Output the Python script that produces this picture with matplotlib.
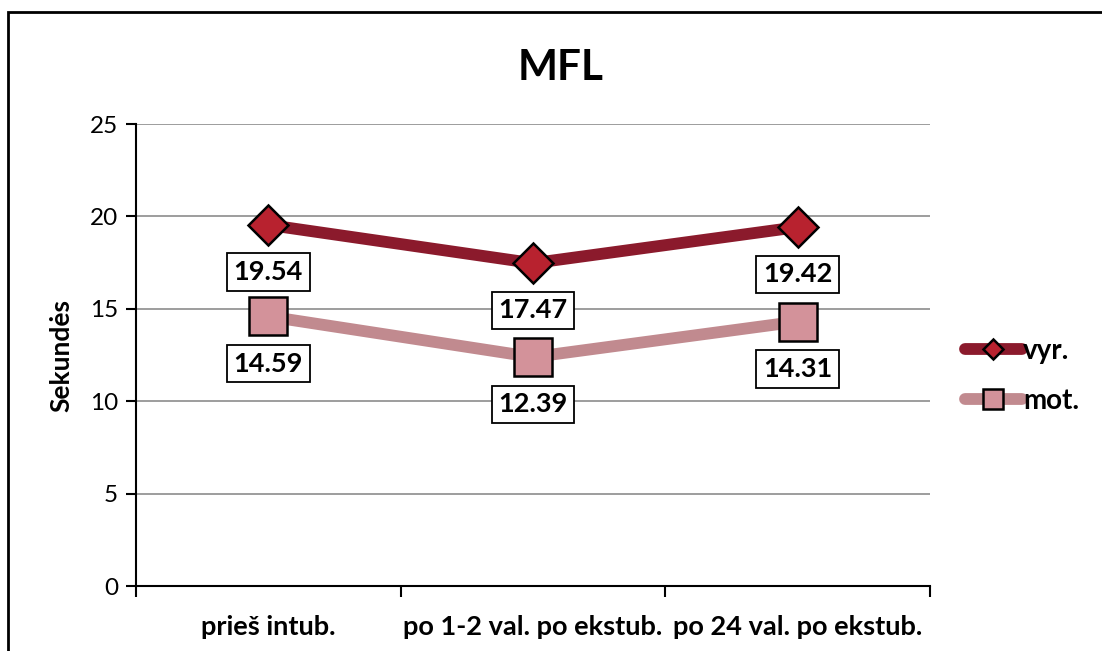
import matplotlib.pyplot as plt
from matplotlib.patches import Rectangle

categories = ['prieš intub.', 'po 1-2 val. po ekstub.', 'po 24 val. po ekstub.']
vyr = [19.54, 17.47, 19.42]
mot = [14.59, 12.39, 14.31]

plt.rcParams['font.family'] = ['Lato', 'DejaVu Sans']

fig = plt.figure(figsize=(11.02, 6.51), dpi=100)
ax = fig.add_axes([0.1234, 0.0998, 0.7205, 0.7097])

# Outer frame of the chart area.
fig.patches.append(Rectangle((8 / 1102, -0.1), 1.2, 1 - 12 / 651 + 0.1,
                             transform=fig.transFigure, fill=False,
                             edgecolor='black', linewidth=2, zorder=0))

x = [i + 0.5 for i in range(len(categories))]

ax.plot(x, vyr, color='#8b1a2c', linewidth=8.5, solid_capstyle='round',
        marker='D', markersize=20.5, markerfacecolor='#b8222f',
        markeredgecolor='black', markeredgewidth=1.8, label='vyr.', zorder=4)
ax.plot(x, mot, color='#c18a8f', linewidth=8.5, solid_capstyle='round',
        marker='s', markersize=27.5, markerfacecolor='#d3929a',
        markeredgecolor='black', markeredgewidth=1.8, label='mot.', zorder=3)

# Value boxes under each marker.
for vals in (vyr, mot):
    for xi, v in zip(x, vals):
        ax.annotate(f'{v:.2f}', (xi, v), xytext=(0, -34), textcoords='offset points',
                    ha='center', va='center', fontsize=19.5, fontweight='bold',
                    bbox=dict(boxstyle='square,pad=0.25', facecolor='white',
                              edgecolor='black', linewidth=1.3), zorder=6)

ax.set_xlim(0, 3)
ax.set_ylim(0, 25)
ax.set_yticks(range(0, 26, 5))
ax.set_xticks(range(0, 4))
ax.set_xticklabels([])
ax.set_xticks(x, minor=True)
ax.set_xticklabels(categories, minor=True, fontsize=19.5, fontweight='bold')
ax.tick_params(axis='x', which='major', direction='out', length=8, width=1.5)
ax.tick_params(axis='x', which='minor', length=0, pad=21)
ax.tick_params(axis='y', direction='out', length=7, width=1.5, labelsize=17.5, pad=6)

ax.grid(axis='y', color='#8c8c8c', linewidth=1.2)
ax.set_axisbelow(True)
for side in ('top', 'right'):
    ax.spines[side].set_visible(False)
for side in ('left', 'bottom'):
    ax.spines[side].set_linewidth(1.5)

ax.set_ylabel('Sekundės', fontsize=19, fontweight='bold', labelpad=12)
fig.text(561 / 1102, 1 - 68 / 651, 'MFL', ha='center', va='center',
         fontsize=30.5, fontweight='bold')

fig.legend(*ax.get_legend_handles_labels(), loc='center left',
           bbox_to_anchor=(965 / 1102, 1 - 376 / 651), frameon=False,
           prop={'size': 20, 'weight': 'bold'}, handlelength=2.05,
           handletextpad=0.05, labelspacing=0.85, markerscale=0.5,
           borderpad=0, borderaxespad=0)

fig.savefig('out.png', dpi=100)
